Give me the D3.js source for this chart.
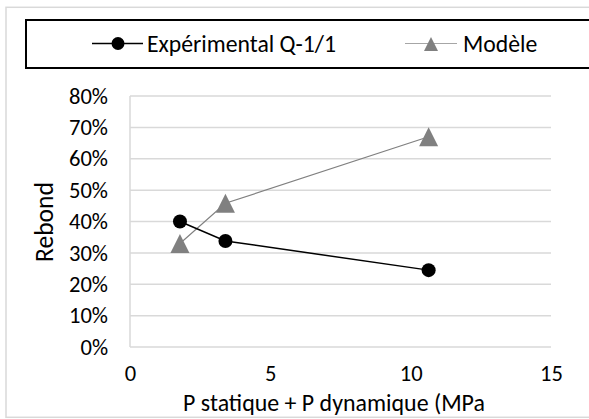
<!DOCTYPE html>
<html><head><meta charset="utf-8">
<script src="https://cdn.jsdelivr.net/npm/d3@7"></script>
<style>body{margin:0;background:#fff}svg{display:block}text{font-family:Carlito,Lato,"Open Sans",sans-serif;fill:#000}</style>
</head><body><svg id="c" width="589" height="419"></svg>
<script>
const seriesNames = ["Expérimental Q-1/1", "Modèle"];
const expX = [1.78, 3.4, 10.64];
const expY = [0.40, 0.338, 0.245];
const modX = [1.78, 3.4, 10.64];
const modY = [0.33, 0.458, 0.67];
const xTicks = [0, 5, 10, 15];
const yTicks = [0, 0.1, 0.2, 0.3, 0.4, 0.5, 0.6, 0.7, 0.8];
const xTitle = "P statique + P dynamique (MPa";
const yTitle = "Rebond";

const svg = d3.select("#c");
const L = 130, R = 551, T = 96, B = 347;
const x = d3.scaleLinear().domain([0, 15]).range([L, R]);
const y = d3.scaleLinear().domain([0, 0.8]).range([B, T]);

// fit a font size so that a sample string has the target width
function fitSize(sample, width) {
  const t = svg.append("text").style("font-size", "100px").text(sample);
  const w = t.node().getComputedTextLength();
  t.remove();
  return 100 * width / w;
}
const fsLegend = fitSize(seriesNames[0], 189);
const fsTick = fitSize("80%", 39);
const fsTitle = fitSize(xTitle, 302);
const fsYTitle = fitSize(yTitle, 80);

// triangle symbol: size = width
const triSym = { draw(ctx, s) { const w = s, h = s; ctx.moveTo(0, -h / 2); ctx.lineTo(w / 2, h / 2); ctx.lineTo(-w / 2, h / 2); ctx.closePath(); } };

// outer frame
svg.append("rect").attr("x", 6).attr("y", 7.3).attr("width", 600).attr("height", 410)
  .attr("fill", "#fff").attr("stroke", "#d9d9d9").attr("stroke-width", 1.5);

// gridlines
svg.append("g").selectAll("line").data(yTicks).join("line")
  .attr("x1", L).attr("x2", R).attr("y1", d => y(d)).attr("y2", d => y(d))
  .attr("stroke", "#d9d9d9").attr("stroke-width", 1.5);
svg.append("line").attr("x1", L).attr("x2", L).attr("y1", T).attr("y2", B)
  .attr("stroke", "#d9d9d9").attr("stroke-width", 1.5);

// y axis labels
const yAx = svg.append("g").attr("transform", `translate(${L},0)`)
  .call(d3.axisLeft(y).tickValues(yTicks).tickFormat(d3.format(".0%")).tickSize(0).tickPadding(22));
yAx.select(".domain").remove();
yAx.selectAll("text").style("font-size", fsTick + "px").style("font-family", null).attr("fill", "#000");

// x axis labels
const xAx = svg.append("g").attr("transform", `translate(0,${B})`)
  .call(d3.axisBottom(x).tickValues(xTicks).tickFormat(d3.format("d")).tickSize(0).tickPadding(0));
xAx.select(".domain").remove();
xAx.selectAll("text").style("font-size", fsTick + "px").style("font-family", null).attr("fill", "#000")
  .attr("y", 373 - B).attr("dy", "0.35em");

// titles
svg.append("text").attr("x", 334).attr("y", 411).attr("text-anchor", "middle")
  .style("font-size", fsTitle + "px").text(xTitle);
svg.append("text").attr("transform", "translate(44,222) rotate(-90)").attr("text-anchor", "middle")
  .attr("dy", "0.35em").style("font-size", fsYTitle + "px").text(yTitle);

// lines
const line = d3.line().x(d => x(d[0])).y(d => y(d[1]));
const expPts = expX.map((v, i) => [v, expY[i]]);
const modPts = modX.map((v, i) => [v, modY[i]]);
svg.append("path").attr("d", line(modPts)).attr("fill", "none").attr("stroke", "#808080").attr("stroke-width", 1.2);
svg.append("path").attr("d", line(expPts)).attr("fill", "none").attr("stroke", "#000").attr("stroke-width", 1.5);

const tri = d3.symbol().type(triSym).size(19);
svg.append("g").selectAll("path").data(modPts).join("path")
  .attr("d", tri).attr("transform", d => `translate(${x(d[0])},${y(d[1])})`).attr("fill", "#808080");
svg.append("g").selectAll("circle").data(expPts).join("circle")
  .attr("cx", d => x(d[0])).attr("cy", d => y(d[1])).attr("r", 7).attr("fill", "#000");

// legend
svg.append("rect").attr("x", 26).attr("y", 20).attr("width", 600).attr("height", 48)
  .attr("fill", "#fff").attr("stroke", "#000").attr("stroke-width", 2);
const lg = svg.append("g");
lg.append("line").attr("x1", 92).attr("x2", 143).attr("y1", 43.5).attr("y2", 43.5).attr("stroke", "#000").attr("stroke-width", 1.3);
lg.append("circle").attr("cx", 118).attr("cy", 43.5).attr("r", 6.5).attr("fill", "#000");
lg.append("text").attr("x", 147).attr("y", 43.5).attr("dy", "0.35em").style("font-size", fsLegend + "px").text(seriesNames[0]);
lg.append("line").attr("x1", 405).attr("x2", 457).attr("y1", 43.5).attr("y2", 43.5).attr("stroke", "#a6a6a6").attr("stroke-width", 1.2);
lg.append("path").attr("d", d3.symbol().type(triSym).size(14)).attr("transform", "translate(431,44)").attr("fill", "#808080");
lg.append("text").attr("x", 463).attr("y", 43.5).attr("dy", "0.35em").style("font-size", fsLegend + "px").text(seriesNames[1]);
</script></body></html>
